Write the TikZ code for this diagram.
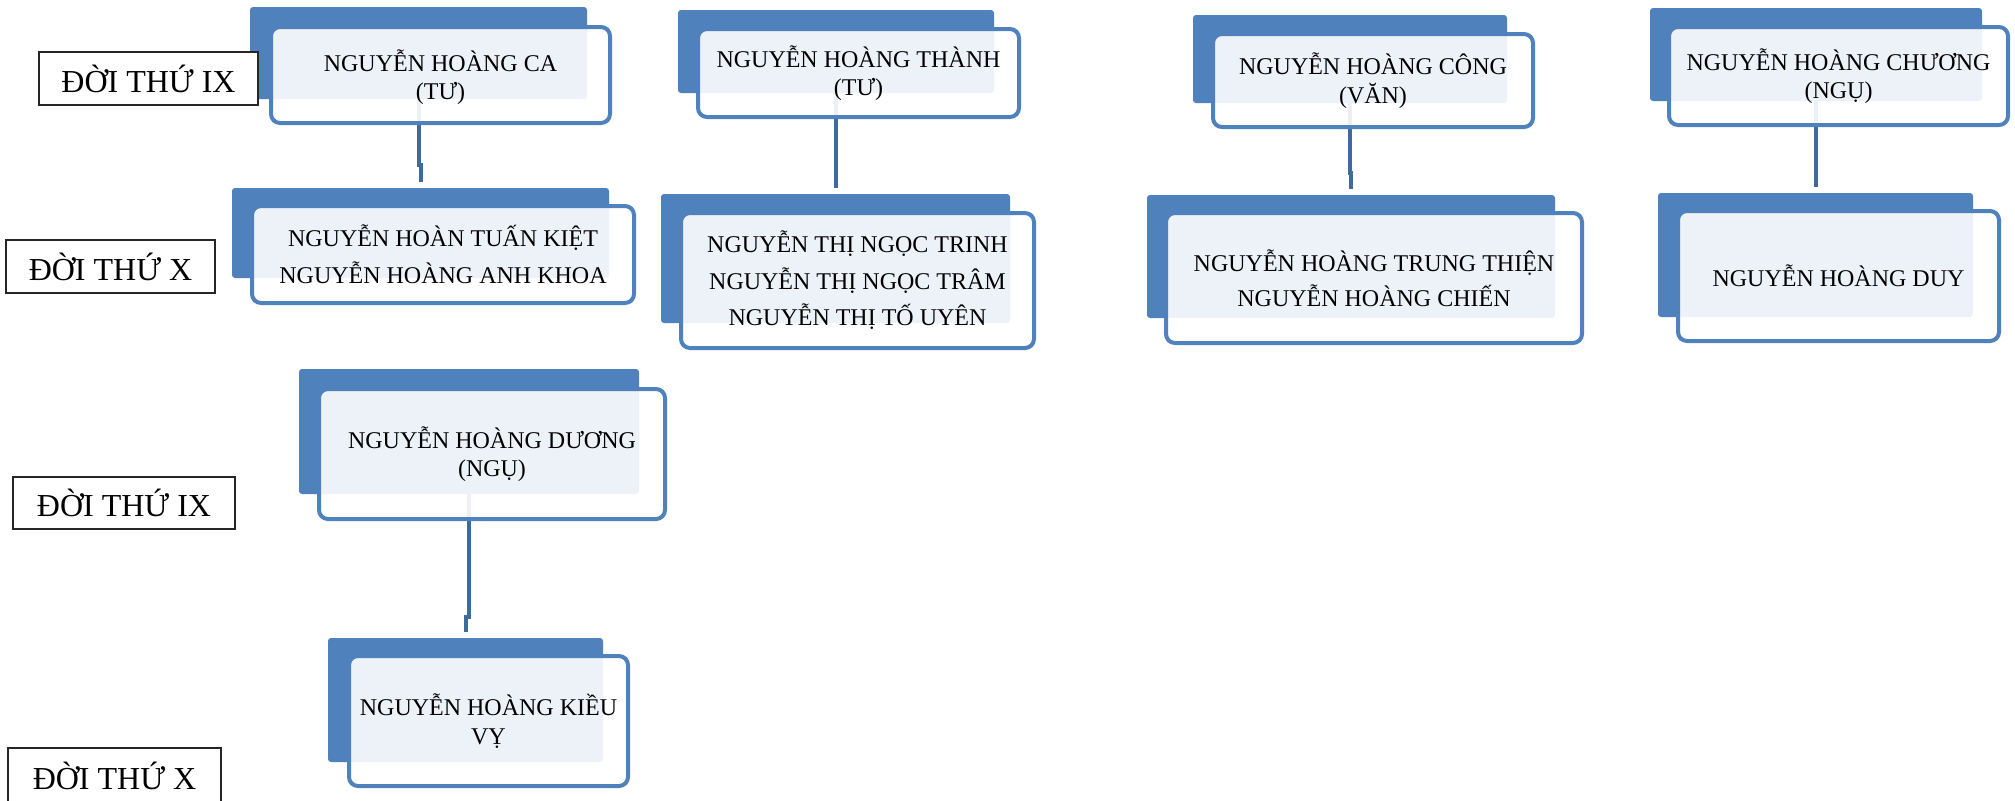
\documentclass[tikz,border=0pt]{standalone}
\usepackage{fontspec}
\setmainfont{Liberation Serif}
\usetikzlibrary{fit}
\definecolor{cardblue}{HTML}{4F81BD}
\definecolor{linkblue}{HTML}{3F6A9C}

\begin{document}
\begin{tikzpicture}[x=0.5pt,y=-0.5pt,
  back/.style={fill=cardblue,rounded corners=1.5pt,inner sep=0pt},
  front/.style={draw=cardblue,line width=2pt,fill=white,fill opacity=0.9,rounded corners=4.5pt,inner sep=0pt},
  link/.style={draw=linkblue,line width=2pt,shorten >=3pt},
  gen/.style={draw=black!85,line width=0.6pt,fill=white,inner sep=0pt,font=\fontsize{16}{19}\selectfont},
  person/.style={align=center,inner sep=0pt,font=\fontsize{12}{14.2}\selectfont}]
\clip (0,0) rectangle (2015,800);

\node[back,fit={(250,7) (587,99)}] (ca back) {};
\node[back,fit={(232,188) (609,278)}] (kiet back) {};
\node[back,fit={(678,10) (994,93)}] (thanh back) {};
\node[back,fit={(661,194) (1010,323)}] (trinh back) {};
\node[back,fit={(1193,15) (1507,103)}] (cong back) {};
\node[back,fit={(1147,195) (1555,318)}] (thien back) {};
\node[back,fit={(1650,8) (1982,101)}] (chuong back) {};
\node[back,fit={(1658,193) (1973,317)}] (duy back) {};
\node[back,fit={(299,369) (639,494)}] (duong back) {};
\node[back,fit={(328,638) (603,762)}] (kieu back) {};

\draw[link] (ca back.south) -- ++(0,66) -| (kiet back.north);
\draw[link] (thanh back.south) -- ++(0,70) -| (trinh back.north);
\draw[link] (cong back.south) -- ++(0,70) -| (thien back.north);
\draw[link] (chuong back.south) -- ++(0,70) -| (duy back.north);
\draw[link] (duong back.south) -- ++(0,123) -| (kieu back.north);

\node[front,fit={(271,27) (610,123)}] (ca box) {};
\node[front,fit={(252,206) (634,303)}] (kiet box) {};
\node[front,fit={(698,29) (1019,117)}] (thanh box) {};
\node[front,fit={(681,213) (1034,348)}] (trinh box) {};
\node[front,fit={(1213,34) (1533,127)}] (cong box) {};
\node[front,fit={(1166,213) (1582,343)}] (thien box) {};
\node[front,fit={(1669,27) (2008,125)}] (chuong box) {};
\node[front,fit={(1678,211) (1999,341)}] (duy box) {};
\node[front,fit={(319,389) (665,519)}] (duong box) {};
\node[front,fit={(349,656) (628,786)}] (kieu box) {};

\node[person] (ca) at ([yshift=-1pt]ca box.center) {NGUYỄN HOÀNG CA\\(TƯ)};
\node[person] (kiet) at (kiet box.center) {NGUYỄN HOÀN TUẤN KIỆT\\[4.5pt]NGUYỄN HOÀNG ANH KHOA};
\node[person] (thanh) at (thanh box.center) {NGUYỄN HOÀNG THÀNH\\(TƯ)};
\node[person] (trinh) at (trinh box.center) {NGUYỄN THỊ NGỌC TRINH\\[4pt]NGUYỄN THỊ NGỌC TRÂM\\[4pt]NGUYỄN THỊ TỐ UYÊN};
\node[person] (cong) at (cong box.center) {NGUYỄN HOÀNG CÔNG\\(VĂN)};
\node[person] (thien) at (thien box.center) {NGUYỄN HOÀNG TRUNG THIỆN\\[3.5pt]NGUYỄN HOÀNG CHIẾN};
\node[person] (chuong) at (chuong box.center) {NGUYỄN HOÀNG CHƯƠNG\\(NGỤ)};
\node[person] (duy) at (duy box.center) {NGUYỄN HOÀNG DUY};
\node[person] (duong) at (duong box.center) {NGUYỄN HOÀNG DƯƠNG\\(NGỤ)};
\node[person] (kieu) at (kieu box.center) {NGUYỄN HOÀNG KIỀU\\VỴ};

\node[gen,minimum width=109.5pt,minimum height=26.5pt] (gen9a) at (148.5,78.5) {\raisebox{-1pt}{ĐỜI THỨ IX}};
\node[gen,minimum width=104.5pt,minimum height=26.5pt] (gen10a) at (110.5,266.5) {\raisebox{-1pt}{ĐỜI THỨ X}};
\node[gen,minimum width=111pt,minimum height=26pt] (gen9b) at (124,503) {\raisebox{-1pt}{ĐỜI THỨ IX}};
\node[gen,minimum width=106.5pt,minimum height=28pt] (gen10b) at (114.5,776) {\raisebox{-1pt}{ĐỜI THỨ X}};
\end{tikzpicture}
\end{document}
